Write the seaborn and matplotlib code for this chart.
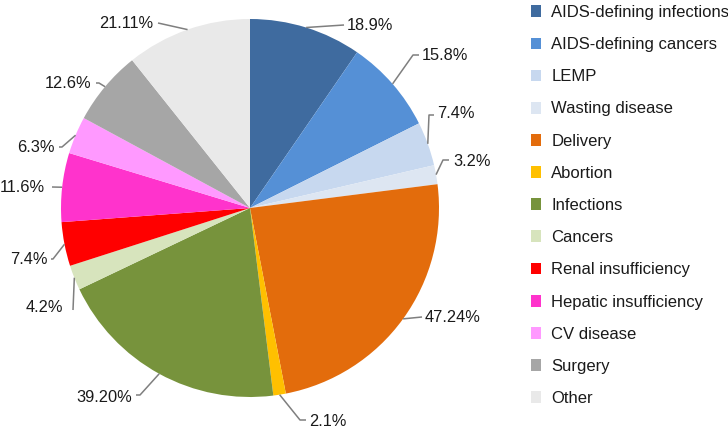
import matplotlib
matplotlib.use("Agg")
import matplotlib.pyplot as plt
import seaborn as sns
import numpy as np

categories = ["AIDS-defining infections", "AIDS-defining cancers", "LEMP", "Wasting disease",
              "Delivery", "Abortion", "Infections", "Cancers", "Renal insufficiency",
              "Hepatic insufficiency", "CV disease", "Surgery", "Other"]
values = [18.9, 15.8, 7.4, 3.2, 47.24, 2.1, 39.20, 4.2, 7.4, 11.6, 6.3, 12.6, 21.11]
value_labels = ["18.9%", "15.8%", "7.4%", "3.2%", "47.24%", "2.1%", "39.20%", "4.2%",
                "7.4%", "11.6%", "6.3%", "12.6%", "21.11%"]
colors = ["#3F6B9F", "#5590D6", "#C7D8EF", "#DDE6F2", "#E36C0C", "#FFC000", "#77933C",
          "#D7E4BD", "#FF0000", "#FF33CC", "#FF99FF", "#A6A6A6", "#E9E9E9"]

sns.set_theme(style="white")
plt.rcParams['font.family'] = ['Liberation Sans', 'DejaVu Sans']

W, H = 728, 432
fig = plt.figure(figsize=(W / 100, H / 100), dpi=100)
cx, cy, R = 250, 208, 189
ax = fig.add_axes([(cx - R) / W, (H - cy - R) / H, 2 * R / W, 2 * R / H])
palette = sns.color_palette(colors)
wedges, _ = ax.pie(values, colors=palette, startangle=90, counterclock=False, radius=1,
                   wedgeprops=dict(linewidth=0))
ax.set_xlim(-1, 1)
ax.set_ylim(-1, 1)
ax.set_aspect('equal')
ax.axis('off')


def to_data(x, y):
    return (x - cx) / R, (cy - y) / R


# label layout in pixels: (elbow, line end, text position, alignment)
label_layout = [
    (None, (344, 25), (347, 25), 'left'),
    ((413, 55), (419, 55), (422, 55), 'left'),
    ((429, 115), (434, 115), (437, 114), 'left'),
    ((443, 160), (449, 160), (453, 162), 'left'),
    (None, (422, 317), (425, 317), 'left'),
    ((300, 420), (306, 420), (309, 422), 'left'),
    ((140, 395), (136, 395), (132, 397), 'right'),
    (None, (73, 310), (63, 308), 'right'),
    ((53, 259), (51, 259), (48, 259), 'right'),
    (None, (52, 187), (45, 187), 'right'),
    ((62, 147), (59, 147), (55, 147), 'right'),
    ((99, 83), (96, 83), (91, 83), 'right'),
    (None, (158, 23), (153, 23), 'right'),
]

for w, lab, (elbow, end, tpos, ha) in zip(wedges, value_labels, label_layout):
    mid = np.deg2rad((w.theta1 + w.theta2) / 2)
    pts = [(np.cos(mid), np.sin(mid))]
    if elbow is not None:
        pts.append(to_data(*elbow))
    pts.append(to_data(*end))
    xs, ys = zip(*pts)
    ax.plot(xs, ys, color="#7F7F7F", lw=1.1, clip_on=False, solid_capstyle='butt')
    tx, ty = to_data(*tpos)
    ax.text(tx, ty, lab, ha=ha, va='center', fontsize=11.8, color="#1A1A1A", clip_on=False)

leg = ax.legend(wedges, categories, loc='upper left', bbox_to_anchor=(531 / W, 1 - 5 / H),
                bbox_transform=fig.transFigure, frameon=False, fontsize=12,
                handlelength=0.62, handleheight=0.7, handletextpad=0.6,
                labelspacing=1.03, borderpad=0, borderaxespad=0)
for t in leg.get_texts():
    t.set_color("#1A1A1A")

fig.savefig("out.png", dpi=100, facecolor="white")
